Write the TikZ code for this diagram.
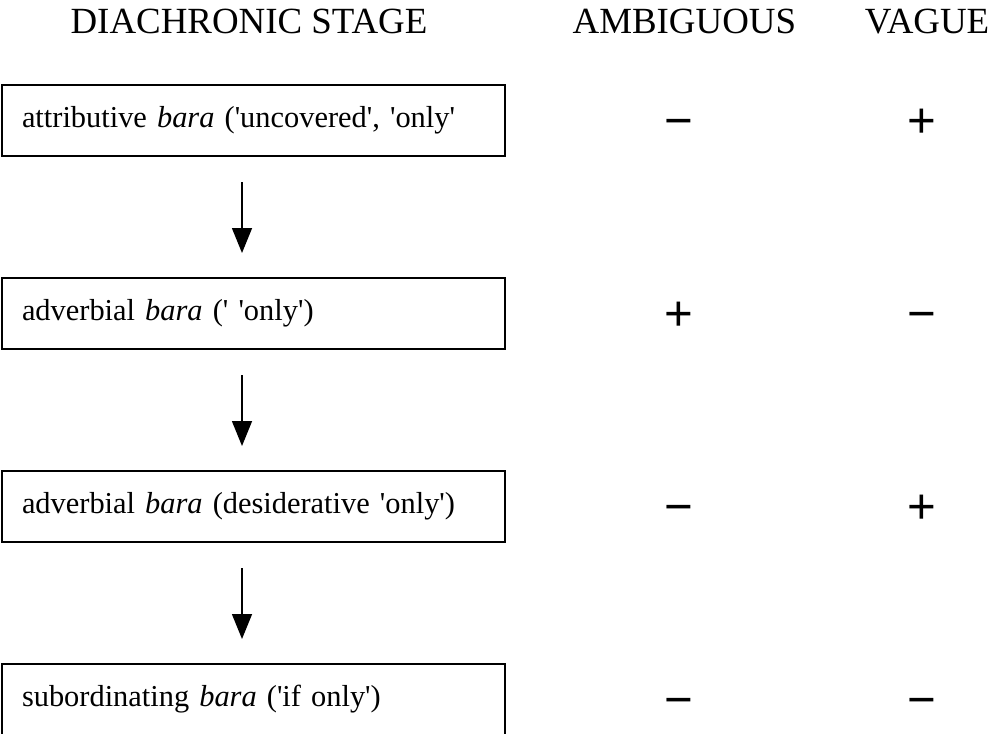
\documentclass[tikz,border=0pt]{standalone}
\usepackage{fontspec}
\setmainfont{Liberation Serif}
\newfontfamily\signfont{Liberation Sans}
\usepackage{tikz}
\usetikzlibrary{arrows.meta,positioning,calc}
\newcommand{\q}{\textquotesingle}
\tikzset{
    stagebox/.style={draw, line width=0.04cm, minimum width=10.06cm, minimum height=1.42cm,
        text width=9.26cm, inner xsep=0.4cm, align=left, font=\fontsize{17.3}{20}\selectfont},
    head/.style={inner sep=0pt, font=\fontsize{21}{25}\selectfont},
    sign/.style={minimum width=1cm, inner sep=0pt, font=\signfont\fontsize{28}{32}\selectfont},
    change/.style={-{Triangle[length=0.5cm, width=0.4cm]}, line width=0.03cm,
        shorten <=0.5cm, shorten >=0.48cm}
}

\begin{document}
\begin{tikzpicture}[node distance=2.4cm]
            \useasboundingbox (0,0) rectangle (19.78,-14.66);

            % Stages
            \node[stagebox] (b1) at (5.07,-2.41) {attributive \textit{bara} (\q uncovered\q, \q only\q};
            \node[stagebox, below=of b1] (b2) {adverbial \textit{bara} (\q\ \q only\q)};
            \node[stagebox, below=of b2] (b3) {adverbial \textit{bara} (desiderative \q only\q)};
            \node[stagebox, below=of b3] (b4) {subordinating \textit{bara} (\q if only\q)};

            \draw[change] ([xshift=-0.23cm]b1.south) -- ([xshift=-0.23cm]b2.north);
            \draw[change] ([xshift=-0.23cm]b2.south) -- ([xshift=-0.23cm]b3.north);
            \draw[change] ([xshift=-0.23cm]b3.south) -- ([xshift=-0.23cm]b4.north);

            % Ambiguous / vague
            \node[sign, right=2.96cm of b1, yshift=-0.06cm] (a1) {\vphantom{+}−};
            \node[sign, right=3.84cm of a1] (v1) {\vphantom{+}+};
            \node[sign, right=2.96cm of b2, yshift=-0.06cm] (a2) {\vphantom{+}+};
            \node[sign, right=3.84cm of a2] (v2) {\vphantom{+}−};
            \node[sign, right=2.96cm of b3, yshift=-0.06cm] (a3) {\vphantom{+}−};
            \node[sign, right=3.84cm of a3] (v3) {\vphantom{+}+};
            \node[sign, right=2.96cm of b4, yshift=-0.06cm] (a4) {\vphantom{+}−};
            \node[sign, right=3.84cm of a4] (v4) {\vphantom{+}−};

            % Headings
            \node[head, above=1.0cm of b1, xshift=-0.09cm] (hstage) {DIACHRONIC STAGE};
            \node[head, xshift=0.1cm] (hamb) at (a1 |- hstage) {AMBIGUOUS};
            \node[head, xshift=0.1cm] (hvague) at (v1 |- hstage) {VAGUE};
        \end{tikzpicture}
\end{document}
